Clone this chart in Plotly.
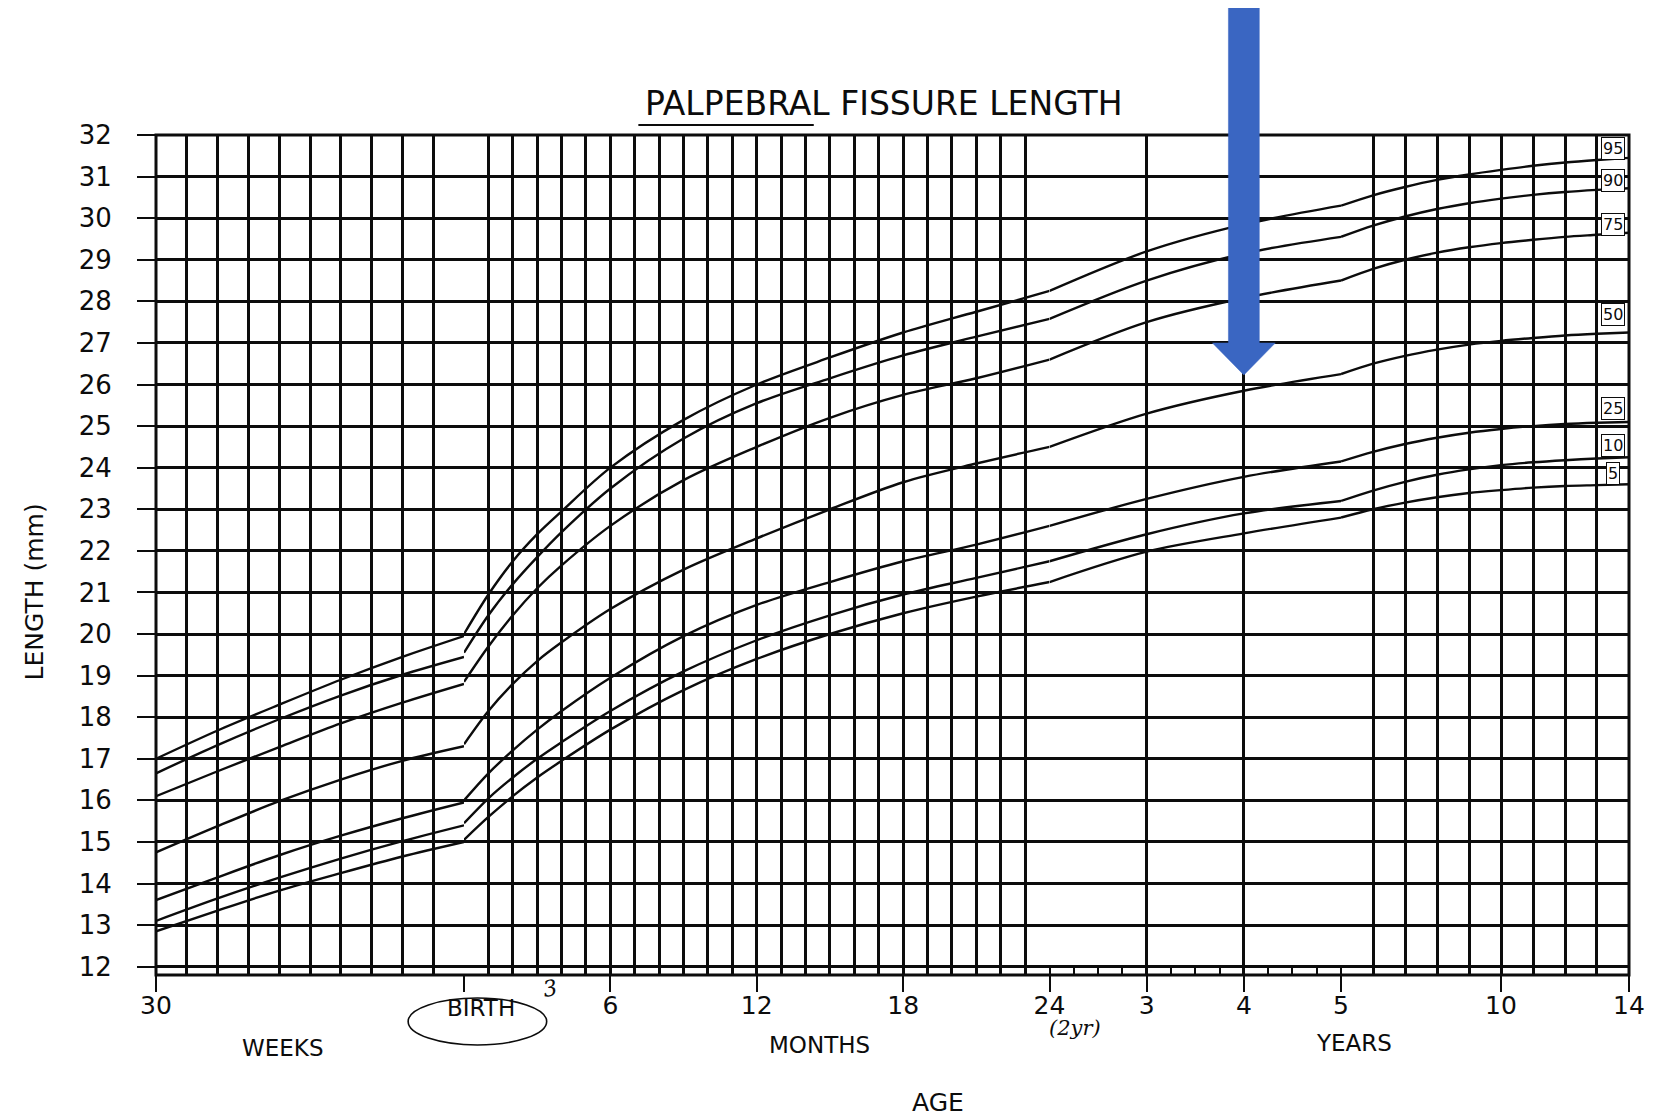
import plotly.graph_objects as go

# ---------------- data ----------------
WEEKS = [30, 32, 34, 36, 38, 40]                      # gestational weeks (before birth)
MONTHS = [0, 1, 2, 3, 4, 6, 9, 12, 15, 18, 21, 24]    # months after birth
YEARS = [2, 3, 4, 5, 6, 7, 8, 9, 10, 11, 12, 13, 14]  # years

P95_WEEKS = [17.0, 17.68, 18.3, 18.9, 19.45, 19.95]
P90_WEEKS = [16.65, 17.33, 17.95, 18.52, 19.02, 19.45]
P75_WEEKS = [16.1, 16.7, 17.28, 17.85, 18.35, 18.8]
P50_WEEKS = [14.75, 15.38, 15.98, 16.5, 16.95, 17.3]
P25_WEEKS = [13.6, 14.15, 14.68, 15.15, 15.57, 15.95]
P10_WEEKS = [13.1, 13.64, 14.14, 14.6, 15.02, 15.4]
P5_WEEKS = [12.85, 13.35, 13.83, 14.25, 14.65, 15.0]

P95_MONTHS = [20.0, 20.95, 21.75, 22.4, 22.95, 24.0, 25.15, 26.0, 26.65, 27.25, 27.75, 28.25]
P90_MONTHS = [19.55, 20.45, 21.2, 21.85, 22.45, 23.5, 24.7, 25.55, 26.15, 26.7, 27.15, 27.58]
P75_MONTHS = [18.85, 19.7, 20.45, 21.1, 21.65, 22.6, 23.7, 24.5, 25.2, 25.75, 26.15, 26.6]
P50_MONTHS = [17.35, 18.15, 18.8, 19.35, 19.8, 20.6, 21.55, 22.3, 23.0, 23.65, 24.1, 24.5]
P25_MONTHS = [16.0, 16.65, 17.2, 17.7, 18.15, 18.95, 19.95, 20.7, 21.25, 21.75, 22.15, 22.6]
P10_MONTHS = [15.45, 16.05, 16.55, 17.0, 17.4, 18.15, 19.1, 19.85, 20.45, 20.95, 21.35, 21.75]
P5_MONTHS = [15.05, 15.6, 16.1, 16.55, 16.95, 17.7, 18.65, 19.4, 20.0, 20.5, 20.9, 21.25]

P95_YEARS = [28.25, 29.2, 29.85, 30.3, 30.55, 30.75, 30.92, 31.05, 31.16, 31.26, 31.34, 31.4, 31.45]
P90_YEARS = [27.58, 28.5, 29.15, 29.55, 29.82, 30.04, 30.22, 30.36, 30.47, 30.56, 30.63, 30.68, 30.72]
P75_YEARS = [26.6, 27.5, 28.08, 28.5, 28.78, 29.0, 29.17, 29.3, 29.4, 29.48, 29.55, 29.6, 29.65]
P50_YEARS = [24.5, 25.3, 25.85, 26.25, 26.5, 26.69, 26.84, 26.96, 27.05, 27.12, 27.18, 27.22, 27.25]
P25_YEARS = [22.6, 23.25, 23.78, 24.15, 24.38, 24.57, 24.72, 24.84, 24.93, 25.0, 25.05, 25.08, 25.1]
P10_YEARS = [21.75, 22.4, 22.9, 23.2, 23.45, 23.66, 23.83, 23.96, 24.06, 24.13, 24.18, 24.22, 24.25]
P5_YEARS = [21.25, 21.98, 22.42, 22.8, 23.0, 23.16, 23.29, 23.39, 23.46, 23.52, 23.56, 23.58, 23.6]

PERCENTILES = ["95", "90", "75", "50", "25", "10", "5"]
LABEL_Y = [31.67, 30.91, 29.84, 27.68, 25.42, 24.53, 23.87]   # where the percentile tags sit

Y_TICKS = list(range(12, 33))
WEEK_TICKS, WEEK_TEXT = [30], ["30"]
MONTH_TICKS = [0, 6, 12, 18, 24]
MONTH_TEXT = ["", "6", "12", "18", "24"]
YEAR_TICKS_A, YEAR_TEXT_A = [3, 4, 5], ["3", "4", "5"]
YEAR_TICKS_B, YEAR_TEXT_B = [10, 14], ["10", "14"]

SERIES = [
    (P95_WEEKS, P95_MONTHS, P95_YEARS),
    (P90_WEEKS, P90_MONTHS, P90_YEARS),
    (P75_WEEKS, P75_MONTHS, P75_YEARS),
    (P50_WEEKS, P50_MONTHS, P50_YEARS),
    (P25_WEEKS, P25_MONTHS, P25_YEARS),
    (P10_WEEKS, P10_MONTHS, P10_YEARS),
    (P5_WEEKS, P5_MONTHS, P5_YEARS),
]

# ---------------- layout geometry ----------------
PAGE = 8                      # default body margin of the html page
W, H = 1657 - PAGE, 1119 - PAGE
ML, MR, MT, MB = 148, 23, 127, 144
PW, PH = W - ML - MR, H - MT - MB
D1, D2, D3 = 0.2091, 0.6066, 0.8045   # segment boundaries: birth, 24 months, 5 years

FONT = "DejaVu Sans"
INK = "#0c0c0c"
GRID = dict(showgrid=True, gridcolor=INK, gridwidth=2.6)


def px(xp):
    """page x pixel -> paper fraction"""
    return (xp - PAGE - ML) / PW


def py(yp):
    """page y pixel -> paper fraction"""
    return (MT + PH - (yp - PAGE)) / PH


fig = go.Figure()
curve = dict(color=INK, width=2.4, shape="spline", smoothing=0.9)
for w, m, yv in SERIES:
    fig.add_trace(go.Scatter(x=WEEKS, y=w, xaxis="x", yaxis="y", mode="lines",
                             line=curve, hoverinfo="skip", showlegend=False))
    fig.add_trace(go.Scatter(x=MONTHS, y=m, xaxis="x2", yaxis="y", mode="lines",
                             line=curve, hoverinfo="skip", showlegend=False))
    xa = [a for a in YEARS if a <= 5]
    ya = [v for a, v in zip(YEARS, yv) if a <= 5]
    xb = [a for a in YEARS if a >= 5]
    yb = [v for a, v in zip(YEARS, yv) if a >= 5]
    fig.add_trace(go.Scatter(x=xa, y=ya, xaxis="x3", yaxis="y", mode="lines",
                             line=curve, hoverinfo="skip", showlegend=False))
    fig.add_trace(go.Scatter(x=xb, y=yb, xaxis="x4", yaxis="y", mode="lines",
                             line=curve, hoverinfo="skip", showlegend=False))

tickfont = dict(family=FONT, size=25, color=INK)
xcommon = dict(anchor="y", tickmode="array", ticks="outside", ticklen=16, tickwidth=2.4,
               tickcolor=INK, ticklabelstandoff=-8, zeroline=False, showline=False,
               tickfont=tickfont, **GRID)

fig.update_layout(
    width=W, height=H,
    margin=dict(l=ML, r=MR, t=MT, b=MB, pad=0),
    paper_bgcolor="white", plot_bgcolor="white",
    showlegend=False,
    font=dict(family=FONT, color=INK),
    xaxis=dict(domain=[0, D1], range=[30, 40], tickvals=WEEK_TICKS, ticktext=WEEK_TEXT,
               minor=dict(tick0=30, dtick=1, **GRID), **xcommon),
    xaxis2=dict(domain=[D1, D2], range=[0, 24], tickvals=MONTH_TICKS, ticktext=MONTH_TEXT,
                minor=dict(tick0=0, dtick=1, **GRID), **xcommon),
    xaxis3=dict(domain=[D2, D3], range=[2, 5], tickvals=YEAR_TICKS_A, ticktext=YEAR_TEXT_A,
                minor=dict(tick0=2, dtick=0.25, ticks="inside", ticklen=8, tickwidth=1.5,
                           tickcolor=INK, showgrid=False), **xcommon),
    xaxis4=dict(domain=[D3, 1], range=[5, 14], tickvals=YEAR_TICKS_B, ticktext=YEAR_TEXT_B,
                minor=dict(tick0=5, dtick=1, **GRID), **xcommon),
    yaxis=dict(domain=[0, 1], range=[11.8, 32], anchor="x", tickmode="array",
               tickvals=Y_TICKS, ticktext=[str(v) for v in Y_TICKS],
               ticks="outside", ticklen=18, tickwidth=2.4, tickcolor=INK,
               ticklabelstandoff=20, zeroline=False, showline=False,
               tickfont=dict(family=FONT, size=26, color=INK), **GRID),
)

# frame
shapes = [dict(type="rect", xref="paper", yref="paper", x0=0, x1=1, y0=0, y1=1,
               line=dict(color=INK, width=3))]
# title underline
shapes.append(dict(type="line", xref="paper", yref="paper", x0=px(640), x1=px(816),
                   y0=py(125), y1=py(125), line=dict(color=INK, width=2)))
# ellipse around BIRTH
shapes.append(dict(type="circle", xref="paper", yref="paper", x0=px(409), x1=px(548),
                   y0=py(1045), y1=py(998), line=dict(color=INK, width=1.6)))
# blue arrow pointing at 4 years
ax_tip = D2 + (4 - 2) / 3 * (D3 - D2)
sh, hh = 15.5 / PW, 31.5 / PW
top, base, tip = py(6), py(343), py(375)
arrow = (f"M {ax_tip - sh},{top} L {ax_tip + sh},{top} L {ax_tip + sh},{base} "
         f"L {ax_tip + hh},{base} L {ax_tip},{tip} L {ax_tip - hh},{base} "
         f"L {ax_tip - sh},{base} Z")
shapes.append(dict(type="path", xref="paper", yref="paper", path=arrow,
                   fillcolor="#3A66C2", line=dict(color="#3A66C2", width=0.5)))
fig.update_layout(shapes=shapes)


def label(text, xp, yp, size, family=FONT, **kw):
    return dict(text=text, x=px(xp), y=py(yp), xref="paper", yref="paper",
                xanchor="center", yanchor="middle", showarrow=False,
                font=dict(family=family, size=size, color=INK), **kw)


ann = [
    label("PALPEBRAL FISSURE LENGTH", 886, 104, 33),
    label("LENGTH (mm)", 34, 592, 25, textangle=-90),
    label("BIRTH", 482, 1008, 23),
    label("<i>(2yr)</i>", 1078, 1028, 21, family="DejaVu Serif"),
    label("WEEKS", 283, 1048, 23),
    label("MONTHS", 822, 1045, 23),
    label("YEARS", 1358, 1043, 23),
    label("AGE", 941, 1102, 25),
    label("<i>3</i>", 551, 988, 22, family="DejaVu Serif", textangle=-10),
]
for lab, ly in zip(PERCENTILES, LABEL_Y):
    ann.append(dict(text=lab, x=13.5, y=ly, xref="x4", yref="y", showarrow=False,
                    xanchor="center", yanchor="middle",
                    font=dict(family=FONT, size=16, color=INK), bgcolor="white",
                    bordercolor=INK, borderwidth=1, borderpad=1))
fig.update_layout(annotations=ann)

fig.write_html("out.html")
